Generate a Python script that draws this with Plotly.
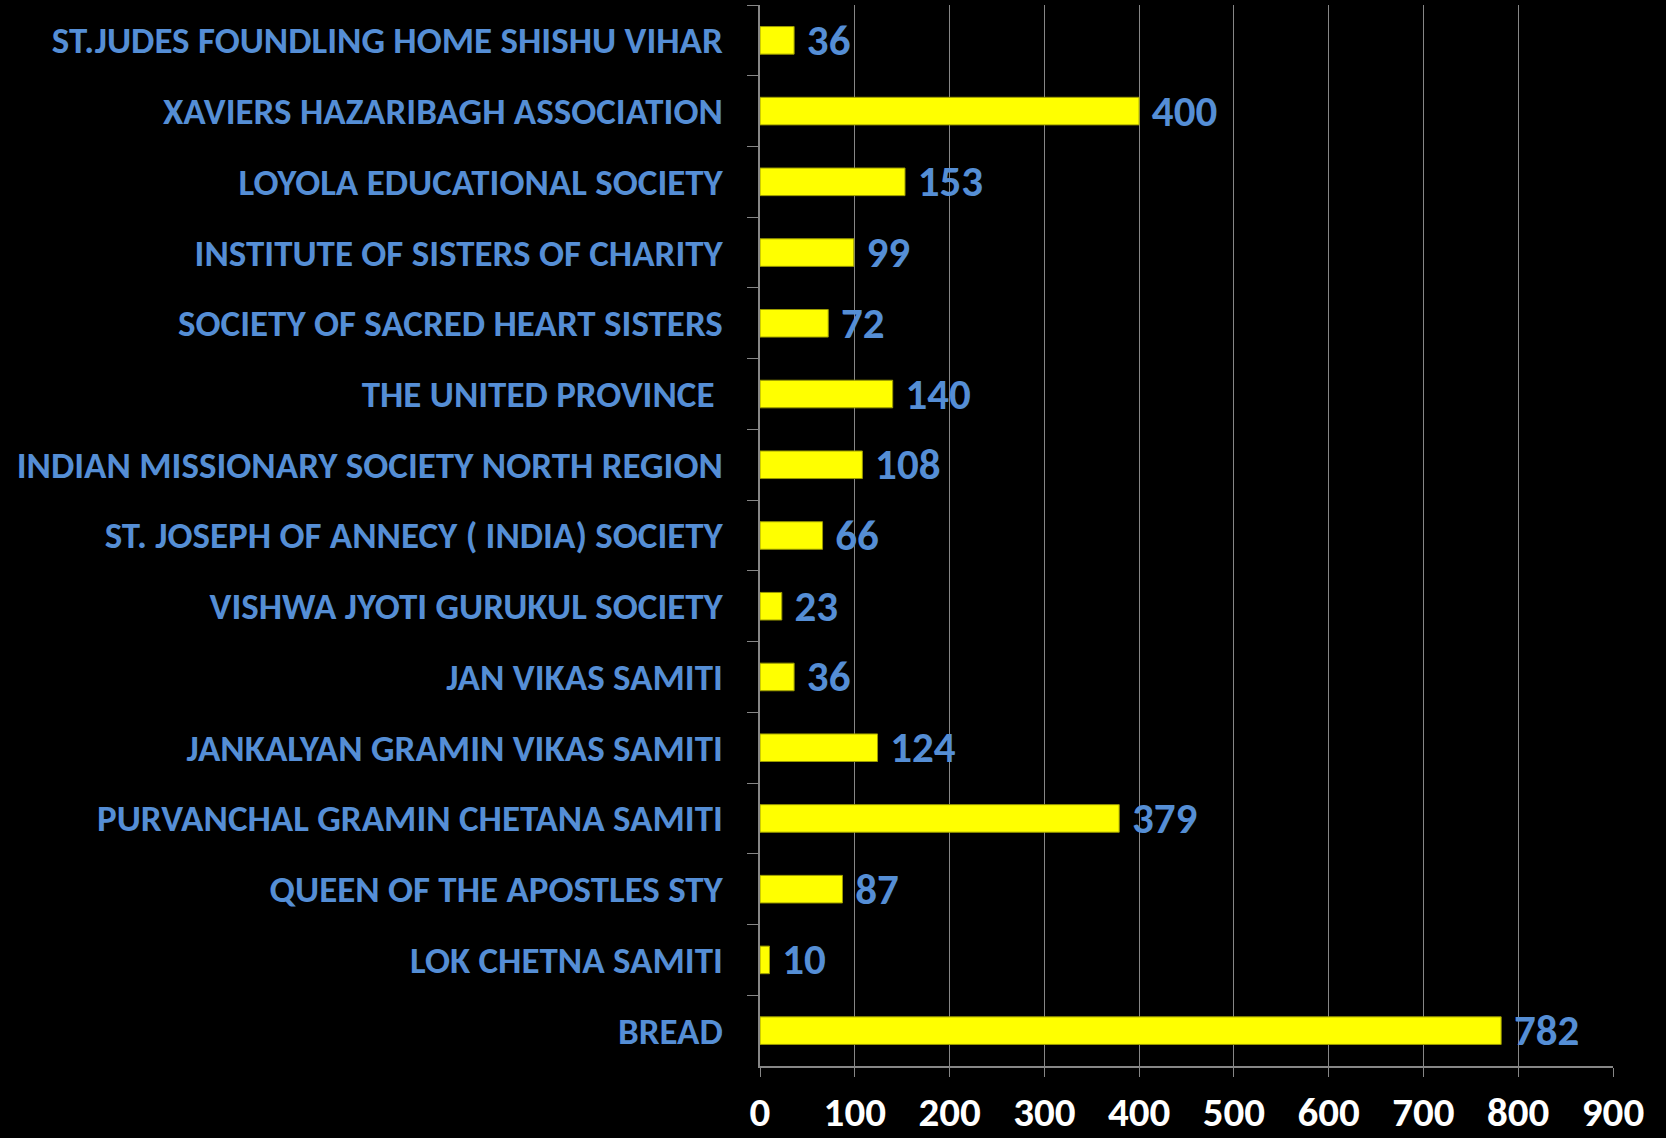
import plotly.graph_objects as go

categories = [
    "ST.JUDES FOUNDLING HOME SHISHU VIHAR",
    "XAVIERS HAZARIBAGH ASSOCIATION",
    "LOYOLA EDUCATIONAL SOCIETY",
    "INSTITUTE OF SISTERS OF CHARITY",
    "SOCIETY OF SACRED HEART SISTERS",
    "THE UNITED PROVINCE\u00a0",
    "INDIAN MISSIONARY SOCIETY NORTH REGION",
    "ST. JOSEPH OF ANNECY ( INDIA) SOCIETY",
    "VISHWA JYOTI GURUKUL SOCIETY",
    "JAN VIKAS SAMITI",
    "JANKALYAN GRAMIN VIKAS SAMITI",
    "PURVANCHAL GRAMIN CHETANA SAMITI",
    "QUEEN OF THE APOSTLES STY",
    "LOK CHETNA SAMITI",
    "BREAD",
]
values = [36, 400, 153, 99, 72, 140, 108, 66, 23, 36, 124, 379, 87, 10, 782]
tick_vals = [0, 100, 200, 300, 400, 500, 600, 700, 800, 900]

FONT = "Carlito, Calibri, Lato, sans-serif"
BLUE = "#558ED5"

fig = go.Figure(go.Bar(
    x=values,
    y=categories,
    orientation="h",
    marker=dict(color="#FFFF00", line=dict(color="#9a9a00", width=1)),
    text=["\u00a0" + str(v) for v in values],
    textposition="outside",
    constraintext="none",
    cliponaxis=False,
    textfont=dict(family=FONT, size=43, color=BLUE, weight="bold"),
))

fig.update_layout(
    width=1666, height=1138,
    paper_bgcolor="black", plot_bgcolor="black",
    margin=dict(l=760, r=53, t=5, b=72),
    bargap=0.61,
    showlegend=False,
    font=dict(family=FONT),
)
fig.update_xaxes(
    range=[0, 900], tickvals=tick_vals, ticktext=[str(t) for t in tick_vals],
    showgrid=True, gridcolor="#868686", gridwidth=1,
    showline=True, linecolor="#868686", linewidth=1.5,
    ticks="outside", ticklen=9, tickcolor="#868686",
    tickfont=dict(family=FONT, size=41, color="white", weight="bold"),
    ticklabelstandoff=0,
    zeroline=False, fixedrange=True, automargin=False,
)
fig.update_yaxes(
    autorange="reversed",
    showline=True, linecolor="#868686", linewidth=1.5,
    ticks="outside", ticklen=11, tickcolor="#868686", tickson="boundaries",
    tickfont=dict(family=FONT, size=37, color=BLUE, weight="bold"),
    ticklabelstandoff=28,
    showgrid=False, fixedrange=True, automargin=False,
)

fig.write_html(
    "out.html",
    config={"displayModeBar": False},
    post_script="document.body.style.margin='0';document.body.style.background='black';document.documentElement.style.background='black';",
)
